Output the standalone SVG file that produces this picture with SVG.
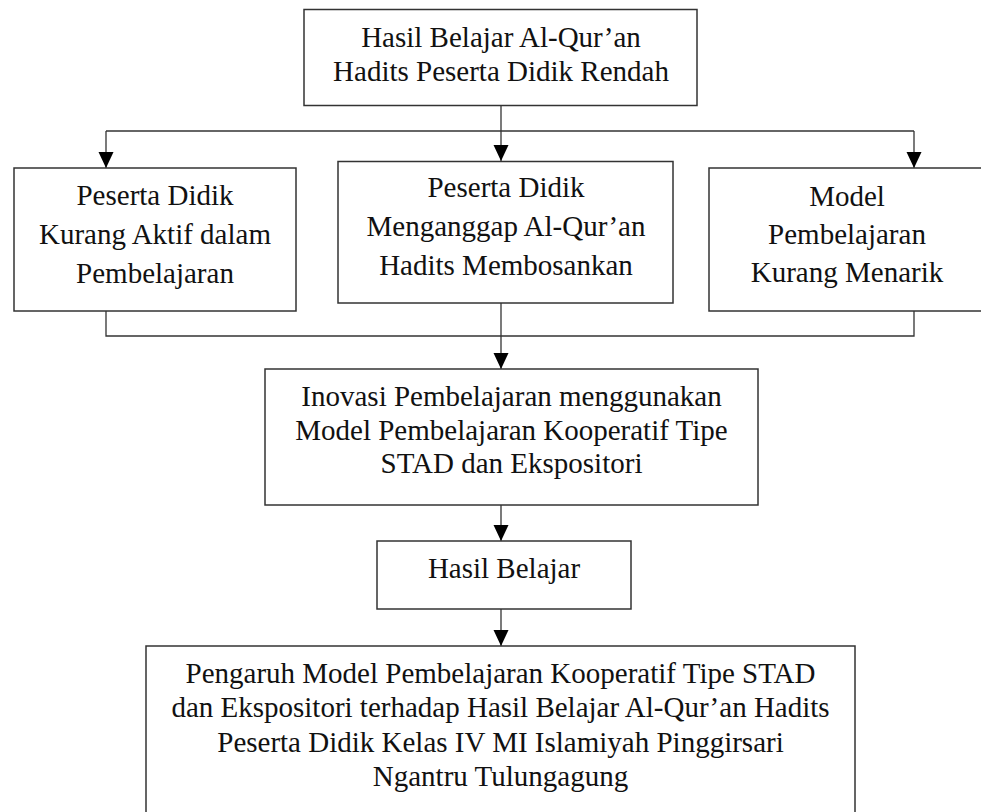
<svg xmlns="http://www.w3.org/2000/svg" width="981" height="812" viewBox="0 0 981 812">
<style>
.box{fill:#fff;stroke:#333;stroke-width:1.5}
.t{font-family:"Liberation Serif","Times New Roman",serif;font-size:29px;fill:#111;text-anchor:middle}
.c{fill:none;stroke:#333;stroke-width:1.3}
</style>
<defs>
<marker id="ah" markerUnits="userSpaceOnUse" markerWidth="16" markerHeight="16" viewBox="0 0 16 16" refX="16" refY="8" orient="auto">
<path d="M0,0.5 L16,8 L0,15.5 z" fill="#000"/>
</marker>
</defs>
<rect width="981" height="812" fill="#fff"/>
<g id="connectors">
<line class="c" x1="501" y1="106" x2="501" y2="161" marker-end="url(#ah)"/>
<line class="c" x1="106" y1="131" x2="914" y2="131"/>
<line class="c" x1="106" y1="131" x2="106" y2="168" marker-end="url(#ah)"/>
<line class="c" x1="914" y1="131" x2="914" y2="168" marker-end="url(#ah)"/>
<polyline class="c" points="106,311 106,336 914,336 914,311"/>
<line class="c" x1="501" y1="303" x2="501" y2="369" marker-end="url(#ah)"/>
<line class="c" x1="501" y1="505" x2="501" y2="541" marker-end="url(#ah)"/>
<line class="c" x1="501" y1="609" x2="501" y2="646" marker-end="url(#ah)"/>
</g>
<g id="n-top">
<rect class="box" x="304" y="9.5" width="393" height="96"/>
<text class="t" x="501" y="47">Hasil Belajar Al-Qur’an</text>
<text class="t" x="501" y="81">Hadits Peserta Didik Rendah</text>
</g>
<g id="n-left">
<rect class="box" x="14" y="168" width="282" height="143"/>
<text class="t" x="155" y="205">Peserta Didik</text>
<text class="t" x="155" y="244">Kurang Aktif dalam</text>
<text class="t" x="155" y="283">Pembelajaran</text>
</g>
<g id="n-mid">
<rect class="box" x="338" y="161.5" width="335" height="141.5"/>
<text class="t" x="506" y="197">Peserta Didik</text>
<text class="t" x="506" y="236">Menganggap Al-Qur’an</text>
<text class="t" x="506" y="275">Hadits Membosankan</text>
</g>
<g id="n-right">
<rect class="box" x="709" y="168" width="290" height="143"/>
<text class="t" x="847" y="206">Model</text>
<text class="t" x="847" y="244">Pembelajaran</text>
<text class="t" x="847" y="282">Kurang Menarik</text>
</g>
<g id="n-inovasi">
<rect class="box" x="265" y="369" width="493" height="136"/>
<text class="t" x="511.5" y="406">Inovasi Pembelajaran menggunakan</text>
<text class="t" x="511.5" y="440">Model Pembelajaran Kooperatif Tipe</text>
<text class="t" x="511.5" y="473">STAD dan Ekspositori</text>
</g>
<g id="n-hasil">
<rect class="box" x="377" y="541" width="254" height="68"/>
<text class="t" x="504" y="578">Hasil Belajar</text>
</g>
<g id="n-pengaruh">
<rect class="box" x="146" y="646" width="709" height="190"/>
<text class="t" x="500.5" y="683">Pengaruh Model Pembelajaran Kooperatif Tipe STAD</text>
<text class="t" x="500.5" y="717">dan Ekspositori terhadap Hasil Belajar Al-Qur’an Hadits</text>
<text class="t" x="500.5" y="752">Peserta Didik Kelas IV MI Islamiyah Pinggirsari</text>
<text class="t" x="500.5" y="786">Ngantru Tulungagung</text>
</g>
</svg>
